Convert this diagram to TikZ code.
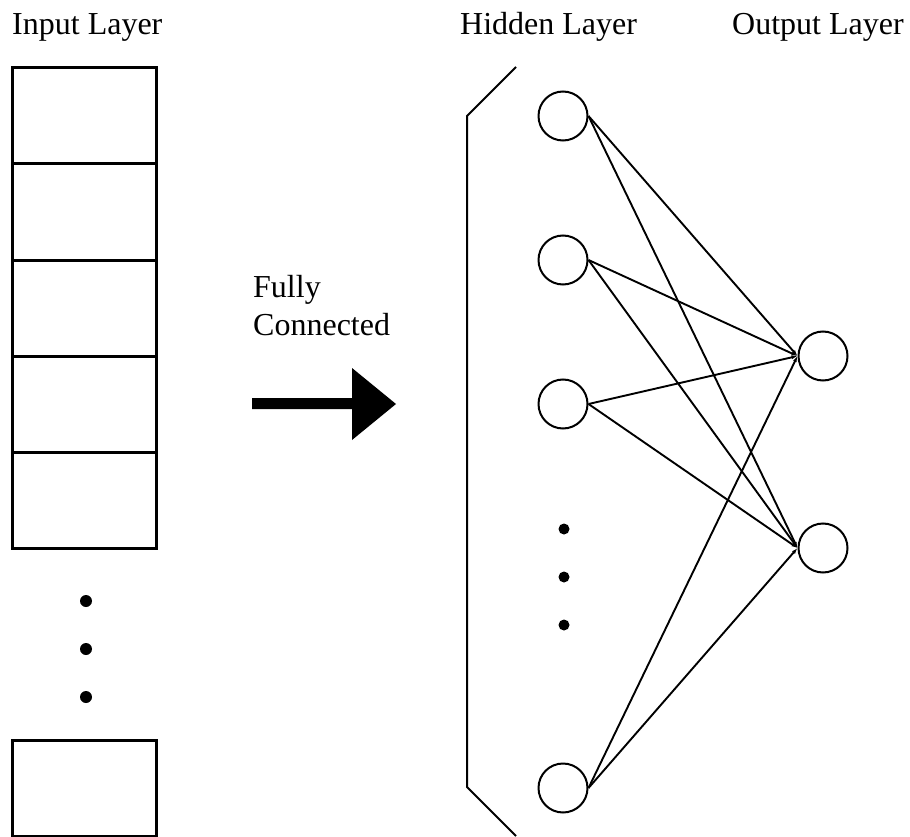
\documentclass[tikz,border=0pt]{standalone}
\usepackage{fontspec}
\setmainfont{Liberation Serif}
\usetikzlibrary{arrows.meta}
\begin{document}
\begin{tikzpicture}[x=1pt,y=-1pt,
  label/.style={anchor=base west,inner sep=0pt,font=\fontsize{32}{38}\selectfont},
  cell/.style={draw,line width=3pt,minimum width=144pt,minimum height=96pt,inner sep=0pt},
  neuron/.style={draw,circle,line width=2pt,minimum size=49pt,inner sep=0pt},
  bigdot/.style={fill,circle,minimum size=12pt,inner sep=0pt},
  smalldot/.style={fill,circle,minimum size=11pt,inner sep=0pt},
  link/.style={line width=1.9pt,-{Latex[length=6pt,width=4pt]}}]
  \useasboundingbox (0,0) rectangle (910,837);

  % layer titles
  \node[label] (tin)  at (12,35)  {Input Layer};
  \node[label] (thid) at (460,35) {Hidden Layer};
  \node[label] (tout) at (732,35) {Output Layer};
  \node[label] (fc1)  at (253,297) {Fully};
  \node[label] (fc2)  at (253,335) {Connected};

  % input column
  \foreach \i/\y in {1/116,2/212,3/308,4/404,5/500}
    \node[cell] (in\i) at (84,\y) {};
  \node[cell] (inN) at (84,788) {};
  \foreach \i/\y in {1/601,2/649,3/697}
    \node[bigdot] (idot\i) at (86,\y) {};

  % fully connected arrow
  \fill (252,398) -- (352,398) -- (352,368) -- (396,404) -- (352,440)
        -- (352,409) -- (252,409) -- cycle;

  % bracket around the hidden layer
  \coordinate (b1) at (516,67);
  \coordinate (b2) at (467,116);
  \coordinate (b3) at (467,787);
  \coordinate (b4) at (516,836);
  \draw[line width=2pt] (b1) -- (b2) -- (b3) -- (b4);

  % hidden neurons
  \foreach \i/\y in {1/116,2/260,3/404,4/788}
    \node[neuron] (h\i) at (563,\y) {};
  \foreach \i/\y in {1/529,2/577,3/625}
    \node[smalldot] (hdot\i) at (564,\y) {};

  % output neurons
  \node[neuron] (o1) at (823,356) {};
  \node[neuron] (o2) at (823,548) {};

  % connections
  \foreach \i in {1,2,3,4}
    \foreach \j in {1,2}
      \draw[link] (h\i.east) -- (o\j.west);
\end{tikzpicture}
\end{document}
